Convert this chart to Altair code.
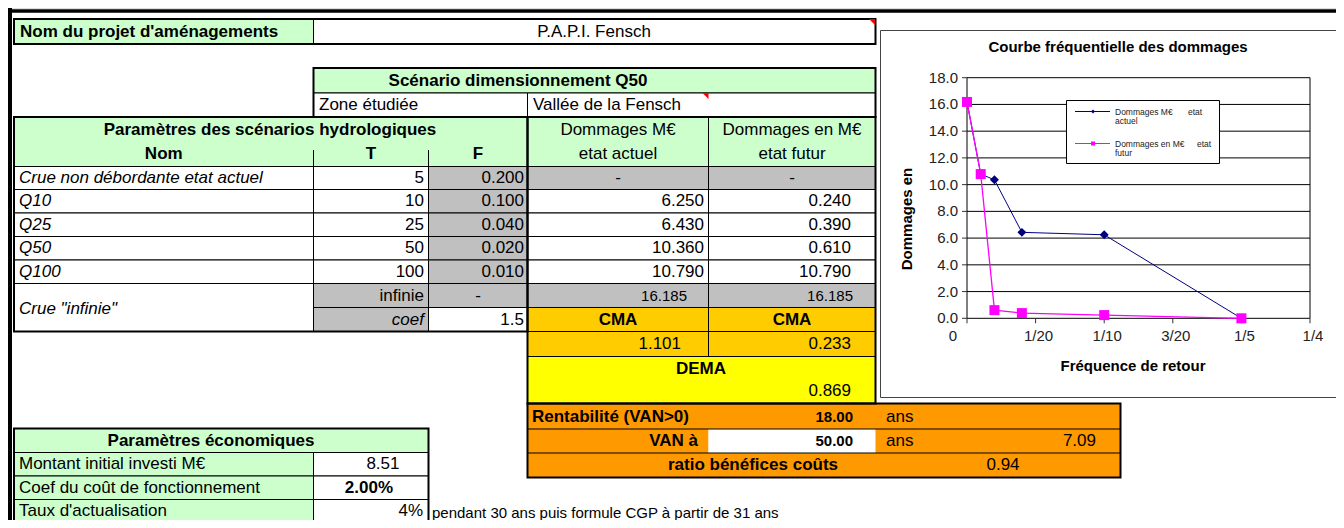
import altair as alt
import pandas as pd

# ------------------------------------------------------------------
# DATA (read from the spreadsheet)
# ------------------------------------------------------------------
projet_label = "Nom du projet d'aménagements"
projet_nom = "P.A.P.I. Fensch"
scenario_titre = "Scénario dimensionnement Q50"
zone_label = "Zone étudiée"
zone_nom = "Vallée de la Fensch"
param_titre = "Paramètres des scénarios hydrologiques"
entetes = ["Nom", "T", "F"]
entete_actuel = ["Dommages M€", "etat actuel"]
entete_futur = ["Dommages en M€", "etat futur"]
crues = ["Crue non débordante etat actuel", "Q10", "Q25", "Q50", "Q100"]
periodes = [5, 10, 25, 50, 100]
frequences = [0.200, 0.100, 0.040, 0.020, 0.010]
dommages_actuel = [None, 6.250, 6.430, 10.360, 10.790]
dommages_futur = [None, 0.240, 0.390, 0.610, 10.790]
crue_infinie = 'Crue "infinie"'
infinie_label = "infinie"
dommage_infini = [16.185, 16.185]
coef_label = "coef"
coef = 1.5
cma_label = "CMA"
cma = [1.101, 0.233]
dema_label = "DEMA"
dema = 0.869
rentab_label = "Rentabilité (VAN>0)"
rentab_ans = 18.00
van_label = "VAN à"
van_horizon = 50.00
van = 7.09
ratio_label = "ratio bénéfices coûts"
ratio_bc = 0.94
unite = "ans"
eco_titre = "Paramètres économiques"
eco_labels = ["Montant initial investi M€", "Coef du coût de fonctionnement", "Taux d'actualisation"]
eco_values = ["8.51", "2.00%", "4%"]
note = "pendant 30 ans puis formule CGP à partir de 31 ans"

chart_title = "Courbe fréquentielle des dommages"
x_title = "Fréquence de retour"
y_title = "Dommages en"
legend_text = [["Dommages M€", "etat", "actuel"], ["Dommages en M€", "etat", "futur"]]
x_ticks = [0.0, 0.05, 0.10, 0.15, 0.20, 0.25]
x_tick_labels = ["0", "1/20", "1/10", "3/20", "1/5", "1/4"]
y_ticks = [0, 2, 4, 6, 8, 10, 12, 14, 16, 18]

# curve points built from the table (crue infinie at F = 0, crue non debordante = 0)
curve_F = [0.0] + frequences[::-1]
curve_actuel = [dommage_infini[0]] + [v if v is not None else 0.0 for v in dommages_actuel[::-1]]
curve_futur = [dommage_infini[1]] + [v if v is not None else 0.0 for v in dommages_futur[::-1]]

# ------------------------------------------------------------------
# LAYOUT
# ------------------------------------------------------------------
W, H = 1328, 512
OX, OY = 8, 8
FONT = "Liberation Sans"
GREEN, GRAY, WHITE = "#CCFFCC", "#C0C0C0", "#FFFFFF"
CMA_OR, YELLOW, ORANGE = "#FFCC00", "#FFFF00", "#FF9900"
NAVY, MAGENTA = "#000080", "#FF00FF"

XS = alt.Scale(domain=[OX, OX + W], nice=False, zero=False)
YS = alt.Scale(domain=[OY, OY + H], reverse=True, nice=False, zero=False)

# embedded chart scales: F=0 -> px 967, F=0.25 -> px 1310 ; D=0 -> py 318.3, D=18 -> py 77.7
p0, p1 = 967 - OX, 1310 - OX
k = 0.25 / (p1 - p0)
CXS = alt.Scale(domain=[-p0 * k, (W - p0) * k], nice=False, zero=False)
q0, q1 = 318.3 - OY, 77.7 - OY
s = 18.0 / (q0 - q1)
CYS = alt.Scale(domain=[-(H - q0) * s, q0 * s], nice=False, zero=False)

# column / row edges of the sheet
xL, xNom, xT, xF, xAct, xFut, xRent = 14, 313.5, 428.5, 527.5, 708.5, 875.5, 1120.5
rowD = [166.5, 189.5, 213, 236.5, 260, 283.5, 307.5, 331.5, 356.5]
yDema = 403.5
rowR = [403.5, 429, 453, 477.5]
rowE = [428.5, 452.5, 476, 499.5, 523]


def px_rect(df, **mk):
    return alt.Chart(pd.DataFrame(df)).mark_rect(**mk).encode(
        x=alt.X("x:Q", scale=XS, axis=None), x2="x2:Q",
        y=alt.Y("y:Q", scale=YS, axis=None), y2="y2:Q",
        fill=alt.Fill("fill:N", scale=None))


def px_box(df, **mk):
    return alt.Chart(pd.DataFrame(df)).mark_rect(filled=False, **mk).encode(
        x=alt.X("x:Q", scale=XS, axis=None), x2="x2:Q",
        y=alt.Y("y:Q", scale=YS, axis=None), y2="y2:Q")


def px_rules(df):
    return alt.Chart(pd.DataFrame(df)).mark_rule().encode(
        x=alt.X("x:Q", scale=XS, axis=None), x2="x2:Q",
        y=alt.Y("y:Q", scale=YS, axis=None), y2="y2:Q",
        color=alt.Color("c:N", scale=None),
        strokeWidth=alt.StrokeWidth("w:Q", scale=None))


cells = []


def cell(x0, x1, y0, y1, fill):
    cells.append(dict(x=x0, x2=x1, y=y0, y2=y1, fill=fill))


cell(xL, xNom, 19, 44, GREEN)
cell(xNom, xFut, 19, 44, WHITE)
cell(xNom, xFut, 68, 93, GREEN)
cell(xNom, xF, 93, 117, WHITE)
cell(xF, xFut, 93, 117, WHITE)
cell(xL, xF, 117, rowD[0], GREEN)
cell(xF, xAct, 117, rowD[0], GREEN)
cell(xAct, xFut, 117, rowD[0], GREEN)
for i in range(len(crues)):
    y0, y1 = rowD[i], rowD[i + 1]
    cell(xL, xNom, y0, y1, WHITE)
    cell(xNom, xT, y0, y1, WHITE)
    cell(xT, xF, y0, y1, GRAY)
    cell(xF, xAct, y0, y1, GRAY if dommages_actuel[i] is None else WHITE)
    cell(xAct, xFut, y0, y1, GRAY if dommages_futur[i] is None else WHITE)
cell(xL, xNom, rowD[5], rowD[7], WHITE)
for (a, b) in [(xNom, xT), (xT, xF), (xF, xAct), (xAct, xFut)]:
    cell(a, b, rowD[5], rowD[6], GRAY)
cell(xNom, xT, rowD[6], rowD[7], GRAY)
cell(xT, xF, rowD[6], rowD[7], WHITE)
cell(xF, xAct, rowD[6], rowD[7], CMA_OR)
cell(xAct, xFut, rowD[6], rowD[7], CMA_OR)
cell(xF, xAct, rowD[7], rowD[8], CMA_OR)
cell(xAct, xFut, rowD[7], rowD[8], CMA_OR)
cell(xF, xFut, rowD[8], yDema, YELLOW)
cell(xL, xT, rowE[0], rowE[1], GREEN)
for i in range(3):
    cell(xL, xNom, rowE[i + 1], rowE[i + 2], GREEN)
    cell(xNom, xT, rowE[i + 1], rowE[i + 2], WHITE)

rent_fill = [
    dict(x=xF, x2=xRent, y=rowR[0], y2=rowR[1], fill=ORANGE),
    dict(x=xF, x2=xAct, y=rowR[1], y2=rowR[2], fill=ORANGE),
    dict(x=xAct, x2=xFut, y=rowR[1], y2=rowR[2], fill=WHITE),
    dict(x=xFut, x2=xRent, y=rowR[1], y2=rowR[2], fill=ORANGE),
    dict(x=xF, x2=xRent, y=rowR[2], y2=rowR[3], fill=ORANGE),
]
thin_rules = [
    dict(x=xNom, x2=xNom, y=150, y2=rowD[0], c="#000", w=1),
    dict(x=xT, x2=xT, y=150, y2=rowD[0], c="#000", w=1),
    dict(x=xF, x2=xRent, y=rowR[1], y2=rowR[1], c="#000", w=1),
    dict(x=xF, x2=xRent, y=rowR[2], y2=rowR[2], c="#000", w=1),
    dict(x=OX, x2=OX + W, y=11, y2=11, c="#000", w=3.5),
    dict(x=10, x2=10, y=OY, y2=OY + H, c="#000", w=4),
]
thick_boxes = [
    dict(x=xL, x2=xFut, y=19, y2=44),
    dict(x=xNom, x2=xFut, y=68, y2=117),
    dict(x=xL, x2=xF, y=117, y2=rowD[7]),
    dict(x=xF, x2=xFut, y=117, y2=yDema),
    dict(x=xF, x2=xRent, y=rowR[0], y2=rowR[3]),
    dict(x=xL, x2=xT, y=rowE[0], y2=rowE[4]),
]
triangles = pd.DataFrame([dict(x=872, y=22), dict(x=705.5, y=96)])
panel = [dict(x=880.5, x2=1342.5, y=30.5, y2=397.5, fill=WHITE)]
legend_box = [dict(x=1066.5, x2=1219.5, y=100.5, y2=163.5, fill=WHITE)]
legend_rules = [
    dict(x=1075, x2=1110, y=111.5, y2=111.5, c=NAVY, w=1),
    dict(x=1075, x2=1110, y=143.5, y2=143.5, c=MAGENTA, w=1.2),
]

# ------------------------------------------------------------------
# TEXTS (sheet coordinates)
# ------------------------------------------------------------------
T = []


def txt(x, y, t, align="left", weight="normal", style="normal", size=17, angle=0, color="#000"):
    T.append(dict(x=x, y=y, text=t, align=align, weight=weight, style=style,
                  size=size, angle=angle, color=color))


txt(20, 31.5, projet_label, weight="bold")
txt(594, 31.5, projet_nom, align="center")
txt(518, 80.5, scenario_titre, align="center", weight="bold")
txt(319, 105, zone_label)
txt(533, 105, zone_nom)
txt(270, 130, param_titre, align="center", weight="bold")
txt((xL + xNom) / 2, 154, entetes[0], align="center", weight="bold")
txt((xNom + xT) / 2, 154, entetes[1], align="center", weight="bold")
txt((xT + xF) / 2, 154, entetes[2], align="center", weight="bold")
txt((xF + xAct) / 2, 130, entete_actuel[0], align="center")
txt((xF + xAct) / 2, 154, entete_actuel[1], align="center")
txt((xAct + xFut) / 2, 130, entete_futur[0], align="center")
txt((xAct + xFut) / 2, 154, entete_futur[1], align="center")
for i in range(len(crues)):
    yc = (rowD[i] + rowD[i + 1]) / 2
    txt(19, yc, crues[i], style="italic")
    txt(424, yc, str(periodes[i]), align="right")
    txt(524, yc, f"{frequences[i]:.3f}", align="right")
    if dommages_actuel[i] is None:
        txt((xF + xAct) / 2, yc, "-", align="center")
    else:
        txt(704, yc, f"{dommages_actuel[i]:.3f}", align="right")
    if dommages_futur[i] is None:
        txt((xAct + xFut) / 2, yc, "-", align="center")
    else:
        txt(851, yc, f"{dommages_futur[i]:.3f}", align="right")
yc = (rowD[5] + rowD[6]) / 2
txt(19, 309, crue_infinie, style="italic")
txt(424, yc, infinie_label, align="right")
txt((xT + xF) / 2, yc, "-", align="center")
txt(687, yc, f"{dommage_infini[0]:.3f}", align="right", size=15)
txt(853, yc, f"{dommage_infini[1]:.3f}", align="right", size=15)
yc = (rowD[6] + rowD[7]) / 2
txt(424, yc, coef_label, align="right", style="italic")
txt(524, yc, f"{coef}", align="right")
txt((xF + xAct) / 2, yc, cma_label, align="center", weight="bold")
txt((xAct + xFut) / 2, yc, cma_label, align="center", weight="bold")
yc = (rowD[7] + rowD[8]) / 2
txt(681, yc, f"{cma[0]:.3f}", align="right")
txt(851, yc, f"{cma[1]:.3f}", align="right")
txt(701, 369, dema_label, align="center", weight="bold")
txt(851, 391, f"{dema:.3f}", align="right")
txt(532, 416.5, rentab_label, weight="bold")
txt(853, 416.5, f"{rentab_ans:.2f}", align="right", weight="bold", size=15)
txt(886, 416.5, unite)
txt(698, 441, van_label, align="right", weight="bold")
txt(853, 441, f"{van_horizon:.2f}", align="right", weight="bold", size=15)
txt(886, 441, unite)
txt(1096, 441, f"{van:.2f}", align="right")
txt(753, 465, ratio_label, align="center", weight="bold")
txt(1003, 465, f"{ratio_bc:.2f}", align="center")
txt(211, 440.5, eco_titre, align="center", weight="bold")
eco_x = [399.5, 393, 423]
eco_w = ["normal", "bold", "normal"]
for i in range(3):
    yc = (rowE[i + 1] + rowE[i + 2]) / 2
    txt(19, yc, eco_labels[i])
    txt(eco_x[i], yc, eco_values[i], align="right", weight=eco_w[i])
txt(432, 513, note, size=15)
# chart decorations
txt(1118, 47, chart_title, align="center", weight="bold", size=15)
txt(1133, 366, x_title, align="center", weight="bold", size=15)
txt(907, 219, y_title, align="center", weight="bold", size=15, angle=270)
for j, row in enumerate(legend_text):
    y0 = 111.5 + 32 * j
    txt(1115, y0, row[0], size=8.5, color="#222")
    txt(1188 + 9 * j, y0, row[1], size=8.5, color="#222")
    txt(1115, y0 + 9.5, row[2], size=8.5, color="#222")


def text_layers(entries):
    df = pd.DataFrame(entries)
    out = []
    for key, g in df.groupby(["align", "weight", "style", "size", "angle", "color"], sort=False):
        align, weight, style, size, angle, color = key
        out.append(alt.Chart(g.reset_index(drop=True)).mark_text(
            align=str(align), baseline="middle", fontWeight=str(weight), fontStyle=str(style),
            fontSize=float(size), angle=float(angle), font=FONT, color=str(color)).encode(
            x=alt.X("x:Q", scale=XS, axis=None),
            y=alt.Y("y:Q", scale=YS, axis=None),
            text="text:N"))
    return out


# ------------------------------------------------------------------
# EMBEDDED CHART (data scales)
# ------------------------------------------------------------------
grid_df = pd.DataFrame({"y": y_ticks, "x0": 0.0, "x1": 0.25})
gridlines = alt.Chart(grid_df).mark_rule(color="#000", strokeWidth=1).encode(
    x=alt.X("x0:Q", scale=CXS, axis=None), x2="x1:Q",
    y=alt.Y("y:Q", scale=CYS, axis=None))
ytick_marks = alt.Chart(grid_df).mark_rule(color="#333", strokeWidth=1, x2Offset=-5).encode(
    x=alt.X("x0:Q", scale=CXS, axis=None), x2="x0:Q",
    y=alt.Y("y:Q", scale=CYS, axis=None))
frame_df = pd.DataFrame({"x": [0.0, 0.25], "y0": 0.0, "y1": 18.0})
frame_v = alt.Chart(frame_df).mark_rule(color="#000", strokeWidth=1).encode(
    x=alt.X("x:Q", scale=CXS, axis=None),
    y=alt.Y("y0:Q", scale=CYS, axis=None), y2="y1:Q")
xt_df = pd.DataFrame({"x": x_ticks, "label": x_tick_labels, "y": 0.0})
xtick_marks = alt.Chart(xt_df).mark_rule(color="#333", strokeWidth=1, y2Offset=5).encode(
    x=alt.X("x:Q", scale=CXS, axis=None),
    y=alt.Y("y:Q", scale=CYS, axis=None), y2="y:Q")
xlab0 = alt.Chart(xt_df.iloc[:1]).mark_text(
    align="center", baseline="middle", dx=-14, dy=18, fontSize=15, font=FONT, color="#222").encode(
    x=alt.X("x:Q", scale=CXS, axis=None), y=alt.Y("y:Q", scale=CYS, axis=None), text="label:N")
xlabs = alt.Chart(xt_df.iloc[1:]).mark_text(
    align="center", baseline="middle", dx=3, dy=18, fontSize=15, font=FONT, color="#222").encode(
    x=alt.X("x:Q", scale=CXS, axis=None), y=alt.Y("y:Q", scale=CYS, axis=None), text="label:N")
yl_df = pd.DataFrame({"y": y_ticks, "x": 0.0, "label": [f"{v:.1f}" for v in y_ticks]})
ylabs = alt.Chart(yl_df).mark_text(
    align="right", baseline="middle", dx=-9, fontSize=15, font=FONT, color="#222").encode(
    x=alt.X("x:Q", scale=CXS, axis=None), y=alt.Y("y:Q", scale=CYS, axis=None), text="label:N")

cur_act = pd.DataFrame({"F": curve_F, "D": curve_actuel, "o": range(len(curve_F))})
cur_fut = pd.DataFrame({"F": curve_F, "D": curve_futur, "o": range(len(curve_F))})
line_act = alt.Chart(cur_act).mark_line(color=NAVY, strokeWidth=1).encode(
    x=alt.X("F:Q", scale=CXS, axis=None), y=alt.Y("D:Q", scale=CYS, axis=None), order="o:Q")
pts_act = alt.Chart(cur_act.iloc[2:]).mark_point(shape="diamond", filled=True, color=NAVY, size=80, opacity=1).encode(
    x=alt.X("F:Q", scale=CXS, axis=None), y=alt.Y("D:Q", scale=CYS, axis=None))
line_fut = alt.Chart(cur_fut).mark_line(color=MAGENTA, strokeWidth=1.3).encode(
    x=alt.X("F:Q", scale=CXS, axis=None), y=alt.Y("D:Q", scale=CYS, axis=None), order="o:Q")
pts_fut = alt.Chart(cur_fut).mark_point(shape="square", filled=True, color=MAGENTA, size=100, opacity=1).encode(
    x=alt.X("F:Q", scale=CXS, axis=None), y=alt.Y("D:Q", scale=CYS, axis=None))

leg_pts = alt.Chart(pd.DataFrame([dict(x=1093, y=111.5, sh="diamond", c=NAVY),
                                  dict(x=1093, y=143.5, sh="square", c=MAGENTA)])).mark_point(
    filled=True, size=16, opacity=1).encode(
    x=alt.X("x:Q", scale=XS, axis=None), y=alt.Y("y:Q", scale=YS, axis=None),
    shape=alt.Shape("sh:N", scale=None), color=alt.Color("c:N", scale=None))

tri = alt.Chart(triangles).mark_point(shape="M -1 -1 L 1 -1 L 1 1 Z", filled=True, color="#FF0000",
                                      size=36, opacity=1).encode(
    x=alt.X("x:Q", scale=XS, axis=None), y=alt.Y("y:Q", scale=YS, axis=None))

layers = [
    px_rect(cells, stroke="#000", strokeWidth=1),
    px_rect(rent_fill),
    px_rules(thin_rules),
    px_box(thick_boxes, stroke="#000", strokeWidth=2),
    tri,
    px_rect(panel, stroke="#444", strokeWidth=1),
    gridlines, frame_v, ytick_marks, xtick_marks, ylabs, xlab0, xlabs,
    line_act, pts_act, line_fut, pts_fut,
    px_rect(legend_box, stroke="#000", strokeWidth=1),
    px_rules(legend_rules),
    leg_pts,
] + text_layers(T)

chart = alt.layer(*layers).resolve_scale(
    x="independent", y="independent"
).properties(
    width=W, height=H, padding=0,
    autosize=alt.AutoSizeParams(type="none"),
).configure_view(strokeWidth=0).configure(background="#FFFFFF")

chart.save("out.html", embed_options={"renderer": "svg", "actions": False})
